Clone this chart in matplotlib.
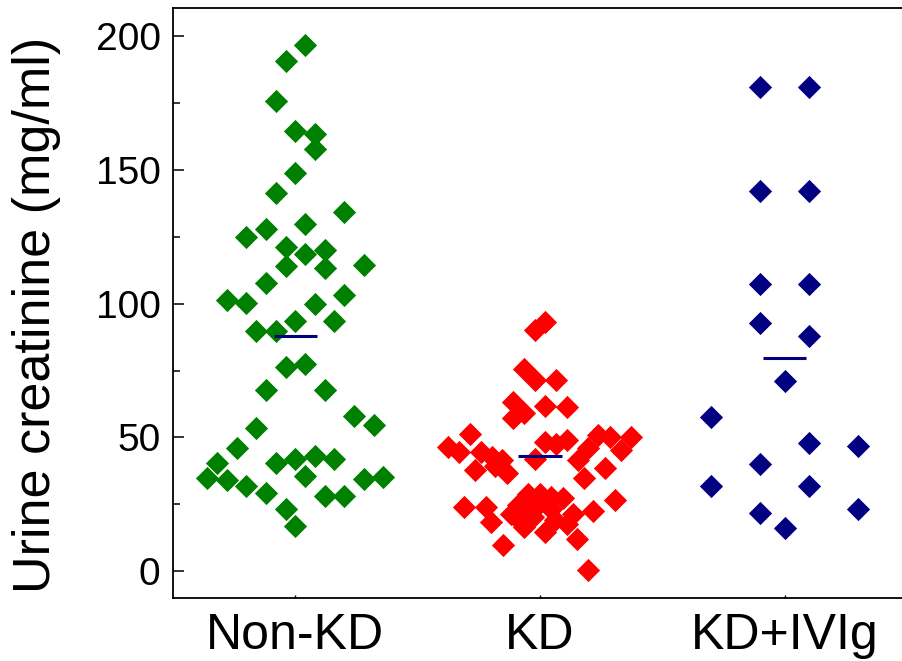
import matplotlib
matplotlib.use('agg')
import matplotlib.pyplot as plt
from matplotlib.ticker import MultipleLocator

plt.rcParams['font.family'] = ['Liberation Sans', 'DejaVu Sans']

# = = = = = data = = = = =
groups = ['Non-KD', 'KD', 'KD+IVIg']
colors = ['#008000', '#ff0000', '#000080']

# horizontal spread of each point around its group centre (data units)
nonkd_dx = [0.04, -0.04, -0.08, 0, 0.08, 0.08, 0, -0.08, 0.2, 0.04, -0.12, -0.2,
            -0.04, 0.12, 0.04, -0.04, 0.12, 0.28, -0.12, -0.28, -0.2, 0.2, 0.08,
            0, 0.16, -0.16, -0.08, -0.04, 0.04, -0.12, 0.12, 0.24, 0.32, -0.16,
            -0.24, -0.32, -0.08, 0, 0.08, 0.16, -0.36, -0.28, -0.2, -0.12, 0.04,
            0.12, 0.2, 0.28, 0.36, -0.04, 0]
nonkd_y = [196.6, 190.7, 175.7, 164.5, 163.3, 157.8, 148.7, 141.4, 134.1, 129.6,
           127.9, 125.0, 121.2, 120.2, 118.4, 114.0, 113.5, 114.3, 107.9, 101.3,
           100.3, 103.4, 99.7, 93.5, 93.5, 89.8, 89.8, 76.4, 77.6, 67.7, 67.7,
           58.1, 54.6, 53.6, 46.1, 40.6, 40.6, 41.9, 43.0, 41.8, 35.0, 34.0, 31.9,
           29.3, 35.6, 28.0, 28.0, 34.4, 35.3, 23.2, 16.9]

kd_dx = [0.022, -0.022, -0.067, -0.022, 0.067, -0.112, 0.022, 0.112, -0.067,
         -0.112, -0.288, -0.378, -0.333, -0.243, -0.198, -0.157, -0.267, -0.182,
         -0.133, 0.022, 0.067, 0.112, -0.022, 0.239, 0.288, 0.373, 0.198, 0.333,
         0.157, 0.178, 0.267, -0.312, -0.222, -0.202, -0.153, -0.088, -0.047,
         0.002, 0.043, 0.092, -0.108, -0.067, -0.027, 0.022, 0.063, 0.112, 0.133,
         0.218, 0.308, 0.153, 0.198, -0.12, 0.043, 0.002, -0.047]
kd_y = [93.2, 90.1, 75.5, 71.5, 71.5, 63.3, 61.7, 61.3, 59.3, 57.1, 51.2, 46.3,
        44.6, 44.6, 42.7, 41.5, 37.8, 39.5, 36.7, 48.3, 47.7, 49.0, 42.1, 51.0,
        50.2, 50.2, 45.9, 45.2, 41.5, 35.0, 38.4, 24.0, 24.0, 18.5, 9.7, 24.7,
        29.0, 29.0, 27.8, 27.2, 20.9, 16.6, 20.3, 14.7, 19.1, 17.8, 21.5, 22.5,
        26.5, 12.2, 0.4, 21.5, 23.4, 25.5, 22.5]

ivig_dx = [-0.1, 0.1, -0.1, 0.1, -0.1, 0.1, -0.1, 0.1, 0, -0.3, 0.1, 0.3, -0.1,
           -0.3, 0.1, 0.3, -0.1, 0]
ivig_y = [180.8, 180.8, 142.1, 142.1, 107.3, 107.3, 92.6, 88.1, 71.0, 57.7, 48.1,
          46.7, 40.1, 31.9, 31.9, 23.4, 21.8, 16.0]

means = [87.9, 43.1, 79.6]

# = = = = = figure = = = = =
fig = plt.figure(figsize=(9.03, 6.61), dpi=100)
ax = fig.add_axes([0.1916, 0.0953, 0.8128, 0.8926])

all_dx = [nonkd_dx, kd_dx, ivig_dx]
all_y = [nonkd_y, kd_y, ivig_y]
for i, (dx, y) in enumerate(zip(all_dx, all_y)):
    xs = [i + 1 + d for d in dx]
    ax.scatter(xs, y, marker='D', s=140, color=colors[i], linewidths=0, zorder=2)
    ax.hlines(means[i], i + 1 - 0.088, i + 1 + 0.088, color='#000080', lw=2.2, zorder=3)

ax.set_xlim(0.5, 3.5)
ax.set_ylim(-10, 210.5)
ax.set_xticks([1, 2, 3])
ax.set_xticklabels(groups, fontsize=36)
ax.yaxis.set_major_locator(MultipleLocator(50))
ax.yaxis.set_minor_locator(MultipleLocator(25))
ax.tick_params(axis='y', which='major', direction='in', length=8, width=1.1, labelsize=28, pad=9)
ax.tick_params(axis='y', which='minor', direction='in', length=5, width=1.1)
ax.tick_params(axis='x', which='major', direction='in', length=2, width=1, pad=11)
ax.set_ylabel('Urine creatinine (mg/ml)', fontsize=37.5)
ax.yaxis.set_label_coords(-0.153, 0.48)

for side in ['left', 'bottom', 'top']:
    ax.spines[side].set_linewidth(1.3)
ax.spines['right'].set_visible(False)

fig.savefig('out.png', dpi=100)
